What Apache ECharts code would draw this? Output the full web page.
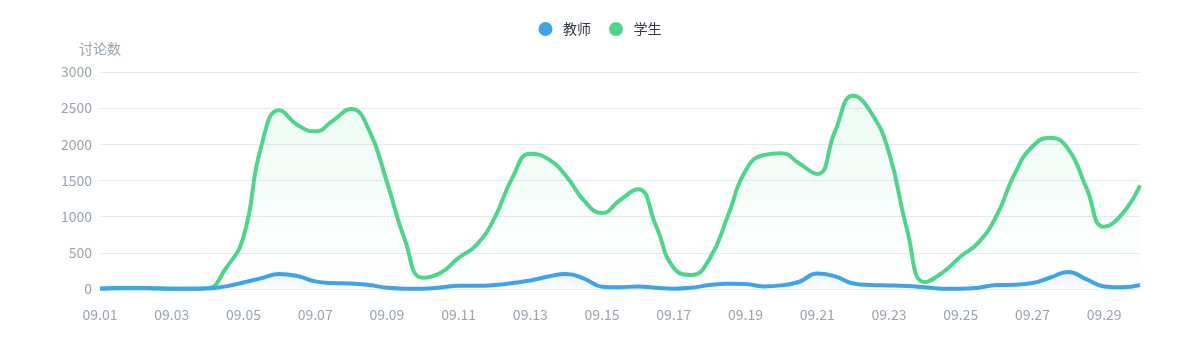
<!DOCTYPE html>
<html>
<head>
<meta charset="utf-8">
<script src="https://cdn.jsdelivr.net/npm/echarts@6/dist/echarts.min.js"></script>
<style>
html,body{margin:0;padding:0;background:#fff;}
#chart{width:1200px;height:360px;}
</style>
</head>
<body>
<div id="chart"></div>
<script>
// Days shown on the axis (data sampled twice a day: 00:00 and 12:00)
var days = ['09.01','09.02','09.03','09.04','09.05','09.06','09.07','09.08','09.09','09.10',
            '09.11','09.12','09.13','09.14','09.15','09.16','09.17','09.18','09.19','09.20',
            '09.21','09.22','09.23','09.24','09.25','09.26','09.27','09.28','09.29','09.30'];
var halves = ['00:00','12:00'];

var seriesNames = ['教师','学生'];

// 教师 (teachers) discussion counts, half-day samples from 09.01 00:00 to 09.30 00:00
var teacherValues = [8,10,10,8,5,5,8,36,90,150,
                     209,180,105,82,77,55,18,5,5,20,
                     45,45,55,82,118,173,209,145,32,23,
                     36,18,5,18,55,73,68,36,50,100,
                     215,175,77,55,50,41,23,5,3,18,
                     55,59,82,159,236,136,36,23,55];

// 学生 (students) discussion counts
var studentValues = [5,15,15,10,3,3,12,280,720,1980,
                     2470,2270,2180,2330,2490,2200,1480,680,155,225,
                     430,610,980,1540,1870,1795,1560,1220,1050,1230,
                     1380,880,290,195,420,1000,1634,1851,1878,1736,
                     1590,2187,2670,2440,1888,830,95,230,450,645,
                     1013,1588,1970,2090,1934,1404,861,1036,1430];

var yAxisName = '讨论数';
var yMin = 0, yMax = 3000, yInterval = 500;

// Build half-day categories from the day list
var categories = [];
for (var i = 0; i < days.length; i++) {
  for (var j = 0; j < halves.length; j++) {
    if (i === days.length - 1 && j > 0) break;
    categories.push(days[i] + ' ' + halves[j]);
  }
}

var blue = '#3fa3e9';
var green = '#4fd48b';
var font = '"Noto Sans CJK SC", "Noto Sans", sans-serif';

var chart = echarts.init(document.getElementById('chart'));
chart.setOption({
  animation: false,
  backgroundColor: '#fff',
  textStyle: {fontFamily: font},
  legend: {
    top: 17,
    left: 'center',
    icon: 'circle',
    itemWidth: 25,
    itemHeight: 14,
    itemGap: 18,
    textStyle: {color: '#333a44', fontSize: 14, fontFamily: font},
    data: seriesNames
  },
  grid: {left: 100, right: 60, top: 72, bottom: 71},
  xAxis: {
    type: 'category',
    boundaryGap: false,
    data: categories,
    axisLine: {show: true, lineStyle: {color: '#e3eaf1'}},
    axisTick: {show: false},
    axisLabel: {
      interval: 3,
      margin: 19,
      color: '#9aa4af',
      fontSize: 14,
      fontFamily: font,
      formatter: function (v) { return v.slice(0, 5); }
    },
    splitLine: {show: false}
  },
  yAxis: {
    type: 'value',
    min: yMin,
    max: yMax,
    interval: yInterval,
    name: yAxisName,
    nameGap: 16,
    nameTextStyle: {color: '#9aa4af', fontSize: 14, fontFamily: font},
    axisLine: {show: false},
    axisTick: {show: false},
    axisLabel: {color: '#9aa4af', fontSize: 14, margin: 8, fontFamily: font,
                formatter: function (v) { return String(v); }},
    splitLine: {lineStyle: {color: '#e3eaf1', width: 1}}
  },
  series: [
    {
      name: seriesNames[0],
      type: 'line',
      smooth: true,
      showSymbol: false,
      symbol: 'none',
      data: teacherValues,
      z: 3,
      itemStyle: {color: blue},
      lineStyle: {color: blue, width: 4},
      areaStyle: {
        color: new echarts.graphic.LinearGradient(0, 0, 0, 1, [
          {offset: 0, color: 'rgba(90,120,240,0.16)'},
          {offset: 1, color: 'rgba(90,120,240,0.02)'}
        ])
      }
    },
    {
      name: seriesNames[1],
      type: 'line',
      smooth: true,
      showSymbol: false,
      symbol: 'none',
      data: studentValues,
      z: 2,
      itemStyle: {color: green},
      lineStyle: {color: green, width: 4},
      areaStyle: {
        color: new echarts.graphic.LinearGradient(0, 0, 0, 1, [
          {offset: 0, color: 'rgba(79,212,139,0.14)'},
          {offset: 1, color: 'rgba(79,212,139,0.0)'}
        ])
      }
    }
  ]
});
</script>
</body>
</html>
